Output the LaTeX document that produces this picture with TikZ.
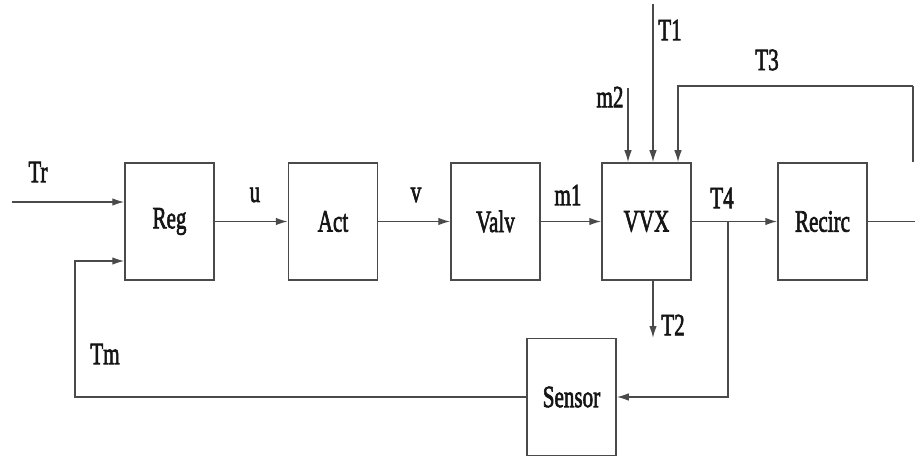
\documentclass[tikz,border=0pt]{standalone}
\usepackage{fontspec}
\setmainfont{Liberation Serif}
\newfontfamily\lblfont{Liberation Serif}[BoldFont=Liberation Serif, BoldFeatures={FakeBold=2.5}]
\usetikzlibrary{arrows.meta,calc}
\definecolor{ln}{HTML}{4A4A4A}
\definecolor{tx}{HTML}{151515}
\newcommand{\lbl}[1]{\scalebox{0.68}[1]{\lblfont\bfseries #1}}
\tikzset{
  blk/.style={draw=ln, line width=1.5pt, minimum width=89pt, minimum height=117pt, inner sep=0pt,
    font=\fontsize{31}{31}\selectfont, text=tx},
  wire/.style={draw=ln, line width=1.4pt},
  arr/.style={wire, -{Latex[length=12pt,width=7.5pt]}},
  tag/.style={font=\fontsize{31}{31}\selectfont, text=tx, inner sep=0pt}
}
\begin{document}
\begin{tikzpicture}[x=1pt,y=-1pt]
\useasboundingbox (0,0) rectangle (915,457);
\node[blk] (Reg) at (169.5,221.5) {\lbl{Reg}};
\node[blk] (Act) at (333,221.5) {\lbl{Act}};
\node[blk] (Valv) at (495.5,221.5) {\lbl{Valv}};
\node[blk] (VVX) at (646.5,221.5) {\lbl{VVX}};
\node[blk] (Recirc) at (822.5,221.5) {\lbl{Recirc}};
\node[blk] (Sensor) at (571.5,397) {\lbl{Sensor}};
% coordinates
\coordinate (trs) at (12,202);
\coordinate (fbin) at (75,261);
\coordinate (m2s) at (628,88);
\coordinate (t1s) at (653,4);
\coordinate (t3r) at (913,86);
\coordinate (t3c) at (678,86);
\coordinate (t3d) at (913,162);
\coordinate (t2e) at (653,338);
\coordinate (br) at (728,221.5);
\coordinate (rout) at (915,221.5);
% connectors
\draw[arr] (trs) -- (trs -| Reg.west);
\draw[arr] (Reg.east) -- (Act.west);
\draw[arr] (Act.east) -- (Valv.west);
\draw[arr] (Valv.east) -- (VVX.west);
\draw[arr] (VVX.east) -- (Recirc.west);
\draw[wire] (Recirc.east) -- (rout);
\draw[arr] (m2s) -- (m2s |- VVX.north);
\draw[arr] (t1s) -- (t1s |- VVX.north);
\draw[wire] (t3d) -- (t3r);
\draw[arr] (t3r) -- (t3c) -- (t3c |- VVX.north);
\draw[arr] (t2e |- VVX.south) -- (t2e);
\draw[arr] (br) -- (br |- Sensor.east) -- (Sensor.east);
\draw[arr] (Sensor.west) -- (Sensor.west -| fbin) -- (fbin) -- (fbin -| Reg.west);
% labels
\node[tag] (lTr) at (38,172) {\lbl{Tr}};
\node[tag] (lu) at (255,195) {\lbl{u}};
\node[tag] (lv) at (416,195) {\lbl{v}};
\node[tag] (lm1) at (568,195) {\lbl{m1}};
\node[tag] (lT4) at (722,198) {\lbl{T4}};
\node[tag] (lm2) at (610,97) {\lbl{m2}};
\node[tag] (lT1) at (670,30) {\lbl{T1}};
\node[tag] (lT3) at (767,60) {\lbl{T3}};
\node[tag] (lT2) at (673,325) {\lbl{T2}};
\node[tag] (lTm) at (105,354) {\lbl{Tm}};
\end{tikzpicture}
\end{document}
